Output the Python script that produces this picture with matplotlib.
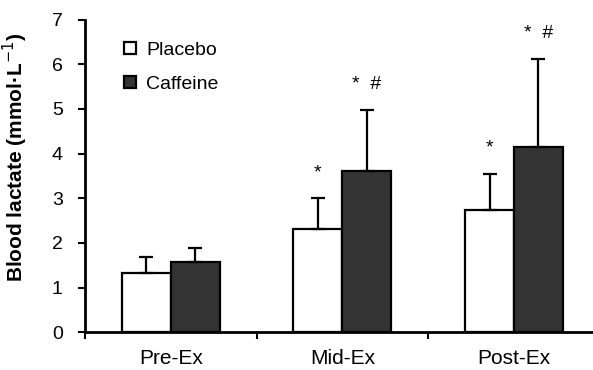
import matplotlib
matplotlib.use('Agg')
import matplotlib.pyplot as plt
import numpy as np
from matplotlib.patches import Patch

# data
phases = ['Pre-Ex', 'Mid-Ex', 'Post-Ex']
placebo = [1.33, 2.31, 2.74]
placebo_sd = [0.36, 0.69, 0.81]
caffeine = [1.58, 3.62, 4.15]
caffeine_sd = [0.30, 1.35, 1.96]
placebo_marks = ['', '*', '*']
caffeine_marks = ['', '*  #', '*  #']

plt.rcParams['font.family'] = ['Liberation Sans', 'DejaVu Sans']

W, H = 593, 370
fig = plt.figure(figsize=(W / 100, H / 100), dpi=100)
ax = fig.add_axes([85 / W, 1 - 332.3 / H, (W - 85) / W, (332.3 - 19.5) / H])

x = np.arange(len(phases))
width = 0.285
dark = '#333333'
err_kw = dict(ecolor='black', elinewidth=1.6, capsize=5, capthick=1.6)

ax.bar(x - width / 2, placebo, width, color='white', edgecolor='black',
       linewidth=1.6, yerr=[np.zeros(3), placebo_sd], error_kw=err_kw, zorder=2)
ax.bar(x + width / 2, caffeine, width, color=dark, edgecolor='black',
       linewidth=1.6, yerr=[np.zeros(3), caffeine_sd], error_kw=err_kw, zorder=2)

for i in range(len(phases)):
    if placebo_marks[i]:
        ax.text(x[i] - width / 2, placebo[i] + placebo_sd[i] + 0.47, placebo_marks[i],
                ha='center', va='baseline', fontsize=14)
    if caffeine_marks[i]:
        ax.text(x[i] + width / 2, caffeine[i] + caffeine_sd[i] + 0.47, caffeine_marks[i],
                ha='center', va='baseline', fontsize=14)

ax.set_xlim(-0.5, -0.5 + (W - 85) / 171.6)
ax.set_ylim(0, 7)
ax.set_yticks(range(8))
ax.set_xticks(x)
ax.set_xticklabels(phases)
ax.set_xticks([-0.5, 0.5, 1.5], minor=True)
ax.tick_params(axis='x', which='major', length=0, pad=12, labelsize=15)
ax.tick_params(axis='x', which='minor', length=5, width=1.5, direction='out')
ax.tick_params(axis='y', length=5, width=1.5, direction='out', labelsize=14, pad=11)

for side in ['top', 'right']:
    ax.spines[side].set_visible(False)
for side in ['left', 'bottom']:
    ax.spines[side].set_linewidth(2)

ax.set_ylabel('Blood lactate (mmol·L$^{-1}$)', fontsize=15, fontweight='bold')
ax.yaxis.set_label_coords(-55 / 508, 0.56)

handles = [Patch(facecolor='white', edgecolor='black', linewidth=1.6, label='Placebo'),
           Patch(facecolor=dark, edgecolor='black', linewidth=1.6, label='Caffeine')]
ax.legend(handles=handles, loc='upper left', bbox_to_anchor=(124 / W, 1 - 42 / H),
          bbox_transform=fig.transFigure, frameon=False, fontsize=14,
          handlelength=0.6, handleheight=0.6, handletextpad=0.55, labelspacing=0.85,
          borderaxespad=0, borderpad=0)

fig.savefig('out.png', dpi=100)
